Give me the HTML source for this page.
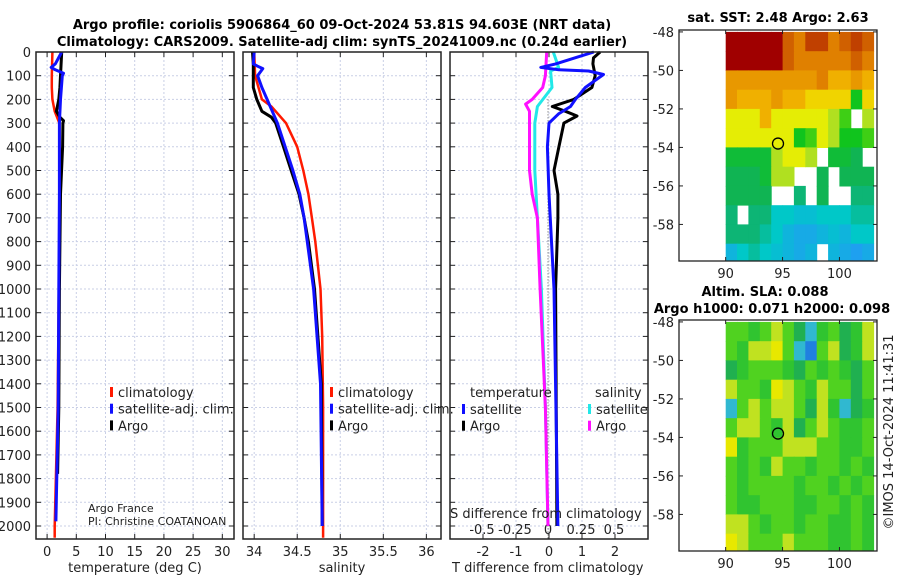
<!DOCTYPE html>
<html><head><meta charset="utf-8"><style>
body{margin:0;background:#fff;width:900px;height:580px;overflow:hidden}
svg{font-family:"DejaVu Sans","Liberation Sans",sans-serif}
</style></head><body>
<svg id="c" width="900" height="580" xmlns="http://www.w3.org/2000/svg"></svg>
<script>
// ---- profile data ----
const tDepth=[0,100,150,200,250,275,290,300,400,600,1000,1500,1780];
const tArgo=[2.5,2.3,2.2,2.0,1.6,2.2,2.8,2.7,2.65,2.3,2.1,2.0,1.8];
const tcDepth=[0,100,150,200,250,300,600,1000,1500,2000,2050];
const tClim=[0.9,0.8,0.8,0.9,1.3,2.1,2.2,2.0,1.8,1.3,1.3];
const tsDepth=[0,50,65,75,90,100,200,300,600,1000,1500,1980];
const tSat=[2.5,1.4,0.7,1.4,2.8,2.6,2.3,2.1,2.1,2.0,1.9,1.5];
const sDepth=[0,50,100,150,200,250,275,300,400,500,600,700,800,1000,1200,1400,2000];
const sArgo=[33.98,33.99,33.99,33.99,34.03,34.09,34.2,34.25,34.34,34.43,34.52,34.58,34.63,34.7,34.74,34.78,34.79];
const scDepth=[0,100,200,230,300,400,500,600,700,800,1000,1200,1500,2050];
const sClim=[34.0,34.01,34.09,34.2,34.37,34.5,34.57,34.63,34.67,34.71,34.77,34.79,34.8,34.8];
const ssDepth=[0,50,60,70,90,100,150,200,250,300,400,500,600,700,1000,1400,2000];
const sSat=[34.0,33.99,34.04,34.1,34.06,34.04,34.09,34.15,34.21,34.27,34.36,34.45,34.53,34.58,34.69,34.77,34.79];
const dTaDepth=[0,25,50,100,150,200,230,250,270,300,400,500,600,700,1000,2000];
const dTArgo=[1.55,1.35,1.33,1.4,1.3,0.75,0.1,0.5,0.85,0.45,0.3,0.15,0.27,0.27,0.2,0.24];
const dTsDepth=[0,20,50,65,75,80,95,120,150,200,230,260,300,400,600,1000,2000];
const dTSat=[1.36,0.9,0.2,-0.25,0.3,1.2,1.65,1.4,1.1,0.8,0.65,0.3,0.0,-0.05,0.0,0.15,0.27];
const dSsDepth=[0,65,80,150,230,300,500,700,1000,1500,2000];
const dSSat=[0.04,0.08,0.02,0.03,-0.08,-0.1,-0.1,-0.08,-0.05,-0.02,0.0];
const dSaDepth=[0,100,150,200,220,250,300,400,500,600,700,1000,1500,2000];
const dSArgo=[-0.01,-0.02,-0.04,-0.12,-0.17,-0.14,-0.14,-0.14,-0.14,-0.12,-0.08,-0.06,-0.02,0.0];
const depthTicks=[0,100,200,300,400,500,600,700,800,900,1000,1100,1200,1300,1400,1500,1600,1700,1800,1900,2000];
const tTicks=[0,5,10,15,20,25,30];
const sTicks=[34,34.5,35,35.5,36];
const sTickLabels=["34","34.5","35","35.5","36"];
const dTTicks=[-2,-1,0,1,2];
const dSTicks=[-0.5,-0.25,0,0.25,0.5];
const dSTickLabels=["-0.5","-0.25","0","0.25","0.5"];
// ---- map data ----
const mapLats=[-48,-49,-50,-51,-52,-53,-54,-55,-56,-57,-58,-59];
const mapLons=[90,91,92,93,94,95,96,97,98,99,100,101,102];
const N=NaN;
const sst=[
[7,7,7,7,7,6,5.5,6.5,6.5,5.5,6,6.5,6],
[7,7,7,7,7,6,5.5,5.5,5.5,5.5,5.5,6,5.5],
[5,5,5,5,5,5,5,5,5.5,4.5,4.5,5,4.5],
[5,4.5,4.5,4.5,5,4.5,4.5,4,4,4,4,2.2,4],
[3.5,3.5,3.5,4.5,3.5,3.5,3.5,3.5,3.5,3,2.5,N,3],
[3.5,3.5,3.5,3.5,3.5,3.5,2.2,2.5,3.5,3,2.2,2.2,2.5],
[2,2,2,2,3,3.5,3.5,3,N,2,2,1.8,N],
[1.8,1.8,1.8,2,3,3,N,N,1.8,N,1.8,1.8,1.8],
[1.8,1.8,1.8,1.8,N,N,1.6,N,1.8,N,N,1.6,1.6],
[1.6,N,1.6,1.6,1.2,1.2,1.1,1.1,1.2,1.2,1.2,1.4,1.4],
[1.6,1.6,1.6,1.4,1.2,1,0.9,0.9,1,1.1,1,1.2,1.2],
[1,1.2,1.4,1.2,1.1,1,0.9,1,N,1,0.9,0.8,0.9]];
const sla=[
[1,1,0,1,2,1,-1,-2,0,1,-1,0,2],
[1,0,2,2,2.5,1,-2,-3,1,2,-1,0,2],
[-1,0,1,1,1,0,-1,1,0,1,0,-1,1],
[2,1,1,0,2.5,2,1,0,2,1,1,-1,1],
[-2,1,2,1,2,2,1,-1,2,0,-2,-1,0],
[1,2,2,1,0,2,-1,1,2,1,0,0,1],
[2.5,0,1,1,1,2,2,2,1,1,0,0,1],
[1,0,1,0,2,1,1,0,1,1,0,1,0],
[1,0,1,1,1,1,0,1,1,0,1,0,1],
[1,0,0,1,1,1,0,0,1,1,0,1,0],
[2,2,1,0,1,1,0,1,1,0,0,1,0],
[2.5,2,1,1,1,2,1,1,1,0,0,1,0]];
const latTicks=[-48,-50,-52,-54,-56,-58];
const lonTicks=[90,95,100];
const argoPos=[94.6,-53.8];

const svg=document.getElementById('c');
const NS='http://www.w3.org/2000/svg';
function el(tag,attrs,parent){const e=document.createElementNS(NS,tag);for(const k in attrs)e.setAttribute(k,attrs[k]);(parent||svg).appendChild(e);return e;}
function txt(s,x,y,attrs,parent){const e=el('text',Object.assign({x:x,y:y,'font-size':13,fill:'#222'},attrs),parent);e.textContent=s;return e;}

const Y0=52,Y1=539,PX=474/2000;
const yD=d=>Y0+d*PX;
const panels=[{x0:36,x1:234,lo:-1.9,hi:32},{x0:243,x1:441,lo:33.87,hi:36.17},{x0:450,x1:648,lo:-3,hi:3}];
panels.forEach(p=>p.f=v=>p.x0+(v-p.lo)/(p.hi-p.lo)*(p.x1-p.x0));
const sF=v=>548+v*132;

function panelFrame(p,xt,name){
  const g=el('g',{},svg);
  
  
  depthTicks.forEach(d=>{if(d>0){const gl=el('line',{x1:p.x0,x2:p.x1,y1:yD(d),y2:yD(d),stroke:'#c9cfe6','stroke-width':1,'stroke-dasharray':'2,2'},g);}
    el('line',{x1:p.x0,x2:p.x0+5,y1:yD(d),y2:yD(d),stroke:'#222'},g);el('line',{x1:p.x1-5,x2:p.x1,y1:yD(d),y2:yD(d),stroke:'#222'},g);});
  xt.forEach(v=>{const x=p.f(v);const gl=el('line',{x1:x,x2:x,y1:Y0,y2:Y1,stroke:'#c9cfe6','stroke-dasharray':'2,2'},g);
    el('line',{x1:x,x2:x,y1:Y1-5,y2:Y1,stroke:'#222'},g);el('line',{x1:x,x2:x,y1:Y0,y2:Y0+5,stroke:'#222'},g);});
  return g;
}
function line(xs,ds,f,color,w,name){
  const pts=xs.map((v,i)=>f(v).toFixed(1)+','+yD(ds[i]).toFixed(1)).join(' ');
  const e=el('polyline',{points:pts,fill:'none',stroke:color,'stroke-width':w,'stroke-linejoin':'round'});
  
  
}
function border(p){const b=el('rect',{x:p.x0,y:Y0,width:p.x1-p.x0,height:Y1-Y0,fill:'none',stroke:'#222','stroke-width':1.5});}

// panel 1
const P1=panels[0],P2=panels[1],P3=panels[2];
panelFrame(P1,tTicks,'temperature-panel');
depthTicks.forEach(d=>{const t=txt(String(d),31,yD(d)+5,{'text-anchor':'end'});});
tTicks.forEach(v=>{const t=txt(String(v),P1.f(v),556,{'text-anchor':'middle'});});
line(tClim,tcDepth,P1.f,'#ff1a00',2.5,'temperature-climatology-line');
line(tArgo,tDepth,P1.f,'#000',3,'temperature-argo-line');
line(tSat,tsDepth,P1.f,'#1010ff',3,'temperature-satellite-line');
border(P1);
txt('temperature (deg C)',135,572,{'text-anchor':'middle',});
// panel 2
panelFrame(P2,sTicks,'salinity-panel');
sTicks.forEach((v,i)=>{const t=txt(sTickLabels[i],P2.f(v),556,{'text-anchor':'middle'});});
line(sClim,scDepth,P2.f,'#ff1a00',2.5,'salinity-climatology-line');
line(sArgo,sDepth,P2.f,'#000',3,'salinity-argo-line');
line(sSat,ssDepth,P2.f,'#1010ff',3,'salinity-satellite-line');
border(P2);
txt('salinity',342,572,{'text-anchor':'middle',});
// panel 3
panelFrame(P3,dTTicks,'difference-panel');
el('line',{x1:548,x2:548,y1:yD(200),y2:Y1,stroke:'#555','stroke-dasharray':'1,2',});
dTTicks.forEach(v=>{const t=txt(String(v),P3.f(v),556,{'text-anchor':'middle'});});
dSTicks.forEach((v,i)=>{const t=txt(dSTickLabels[i],sF(v),534,{'text-anchor':'middle'});});
line(dSSat,dSsDepth,sF,'#22e8e8',3,'salinity-diff-satellite-line');
line(dSArgo,dSaDepth,sF,'#ff10ff',3,'salinity-diff-argo-line');
line(dTArgo,dTaDepth,P3.f,'#000',3,'temperature-diff-argo-line');
line(dTSat,dTsDepth,P3.f,'#1010ff',3,'temperature-diff-satellite-line');
border(P3);
txt('S difference from climatology',450,518,{});
txt('T difference from climatology',452,572,{});

// legends
function legend(x,y,items,name){const g=el('g',{});
  items.forEach((it,i)=>{if(it[1])el('rect',{x:x,y:y+i*16.7-10,width:3,height:10,fill:it[1]},g);txt(it[0],x+(it[1]?8:-1),y+i*16.7,{},g);});}
legend(110,397,[['climatology','#ff1a00'],['satellite-adj. clim.','#1010ff'],['Argo','#000']],'temperature-legend');
legend(330,397,[['climatology','#ff1a00'],['satellite-adj. clim.','#1010ff'],['Argo','#000']],'salinity-legend');
txt('temperature',470,397,{});
legend(462,414,[['satellite','#1010ff'],['Argo','#000']],'temperature-diff-legend');
txt('salinity',595,397,{});
legend(588,414,[['satellite','#22e8e8'],['Argo','#ff10ff']],'salinity-diff-legend');
txt('Argo France',88,512,{'font-size':11,});
txt('PI: Christine COATANOAN',88,525,{'font-size':11,});
// titles
txt('Argo profile: coriolis 5906864_60 09-Oct-2024 53.81S 94.603E (NRT data)',342,29,{'text-anchor':'middle','font-weight':'bold','fill':'#000',});
txt('Climatology: CARS2009. Satellite-adj clim: synTS_20241009.nc (0.24d earlier)',342,46,{'text-anchor':'middle','font-weight':'bold','fill':'#000',});

// maps
function lerpColor(stops,v){if(v<=stops[0][0])return stops[0][1];for(let i=1;i<stops.length;i++){if(v<=stops[i][0]){const a=stops[i-1],b=stops[i];const t=(v-a[0])/(b[0]-a[0]);const ca=a[1],cb=b[1];return 'rgb('+[0,1,2].map(k=>Math.round(ca[k]+(cb[k]-ca[k])*t)).join(',')+')';}}return stops[stops.length-1][1];}
function rgb(c){return Array.isArray(c)?'rgb('+c.join(',')+')':c;}
const sstStops=[[0.8,[30,160,240]],[1.2,[0,200,200]],[1.7,[16,176,96]],[2.3,[16,200,16]],[3,[176,224,32]],[3.6,[240,240,0]],[4.5,[240,176,0]],[5.5,[224,128,0]],[6.5,[192,64,0]],[7,[160,0,0]]];
const slaStops=[[-3,[32,128,224]],[-2,[48,184,208]],[-1,[32,176,80]],[0,[48,196,48]],[1,[80,210,32]],[2,[192,226,32]],[2.5,[232,232,0]],[3,[232,192,0]]];
function drawMap(top,bottom,grid,stops,name){
  const x0=679,x1=877,lonLo=85.9,lonHi=103.3,latHi=-47.9,latLo=-59.9;
  const fx=lon=>x0+(lon-lonLo)/(lonHi-lonLo)*(x1-x0);
  const fy=lat=>top+(latHi-lat)/(latHi-latLo)*(bottom-top);
  const g=el('g',{});
  
  
  grid.forEach((row,r)=>row.forEach((v,c)=>{if(isNaN(v))return;
    const la=mapLats[r],lo=mapLons[c];
    const xa=fx(lo),xb=Math.min(fx(lo+1),x1),ya=Math.max(fy(la),top),yb=Math.min(fy(la-1),bottom);
    const col=lerpColor(stops,v);
    const cell=el('rect',{x:xa.toFixed(1),y:ya.toFixed(1),width:(xb-xa+0.5).toFixed(1),height:(yb-ya+0.5).toFixed(1),fill:rgb(col)},g);
    
    }));
  const cc=el('circle',{cx:fx(argoPos[0]),cy:fy(argoPos[1]),r:5.5,fill:'none',stroke:'#000','stroke-width':1.3},g);
  
  
  el('rect',{x:x0,y:top,width:x1-x0,height:bottom-top,fill:'none',stroke:'#222','stroke-width':1.3},g);
  latTicks.forEach(l=>{const y=fy(l);el('line',{x1:x0,x2:x0+4,y1:y,y2:y,stroke:'#222'},g);el('line',{x1:x1-4,x2:x1,y1:y,y2:y,stroke:'#222'},g);
    const t=txt(String(l),674,y+5,{'text-anchor':'end'},g);});
  lonTicks.forEach(l=>{const x=fx(l);el('line',{x1:x,x2:x,y1:bottom-4,y2:bottom,stroke:'#222'},g);el('line',{x1:x,x2:x,y1:top,y2:top+4,stroke:'#222'},g);
    const t=txt(String(l),x,bottom+17,{'text-anchor':'middle'},g);});
}
drawMap(30,261,sst,sstStops,'sst-map');
drawMap(320,551,sla,slaStops,'sla-map');
txt('sat. SST: 2.48 Argo: 2.63',778,22,{'text-anchor':'middle','font-weight':'bold','fill':'#000',});
txt('Altim. SLA: 0.088',765,296,{'text-anchor':'middle','font-weight':'bold','fill':'#000',});
txt('Argo h1000: 0.071 h2000: 0.098',772,313,{'text-anchor':'middle','font-weight':'bold','fill':'#000',});
txt('©IMOS 14-Oct-2024 11:41:31',0,0,{'text-anchor':'middle','transform':'translate(893,432) rotate(-90)',});
</script>
</body></html>
